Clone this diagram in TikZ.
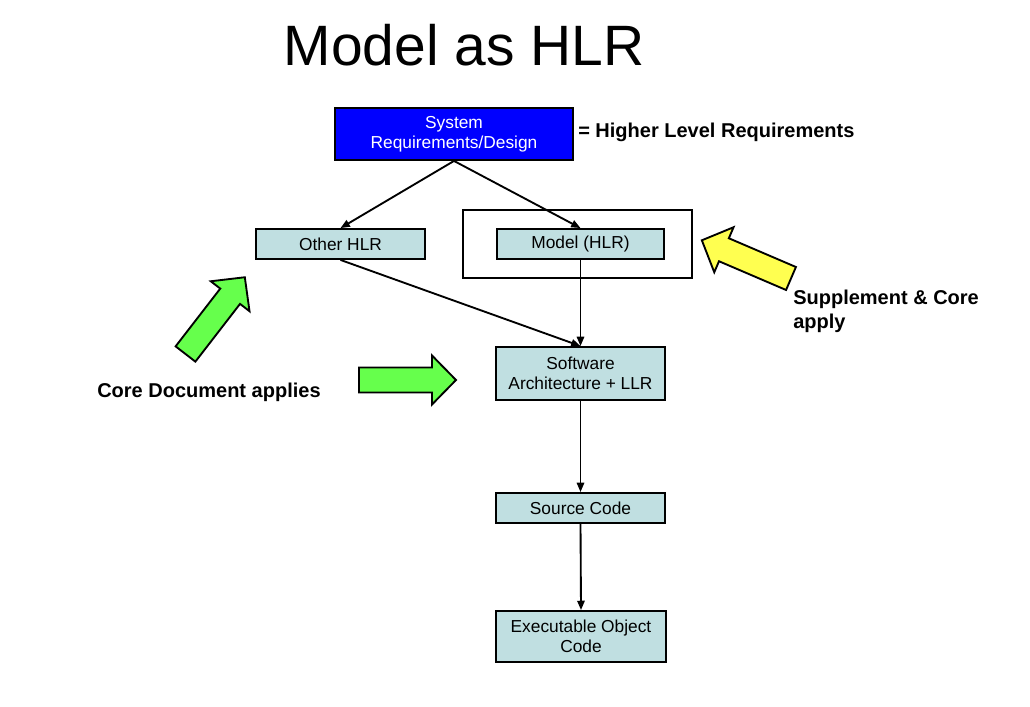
\documentclass[tikz,border=0pt]{standalone}
\usepackage{fontspec}
\setmainfont{Liberation Sans}
\usetikzlibrary{arrows.meta}

\definecolor{boxblue}{RGB}{0,0,255}
\definecolor{boxcyan}{RGB}{192,223,225}
\definecolor{arrowgreen}{RGB}{102,255,76}
\definecolor{arrowyellow}{RGB}{255,255,80}

\tikzset{
  box/.style={draw, line width=1.4pt, fill=boxcyan, align=center,
    font=\fontsize{13}{15}\selectfont, inner sep=0pt},
  topbox/.style={box, fill=boxblue, text=white},
  link/.style={line width=1.4pt, -{Triangle[length=7pt,width=5.5pt]}},
  note/.style={font=\fontsize{15}{18}\selectfont\bfseries, align=left, inner sep=0pt},
  blockgreen/.style={draw, line width=1.4pt, line join=miter, fill=arrowgreen},
  blockyellow/.style={draw, line width=1.4pt, line join=miter, fill=arrowyellow}
}

% Blockpfeil: Stil, Fusspunkt, Winkel
\newcommand\bigarrow[3]{%
  \begin{scope}[shift={#2}, rotate=#3]
    \draw[#1] (0,-12.5) -- (73,-12.5) -- (73,-24.5) -- (97,0)
      -- (73,24.5) -- (73,12.5) -- (0,12.5) -- cycle;
  \end{scope}}

\begin{document}
\begin{tikzpicture}[x=0.75pt, y=-0.75pt]
  \useasboundingbox (0,0) rectangle (1030,706);

  % Titel
  \node (title) at (464,45) {\fontsize{42.7}{48}\selectfont Model as HLR};

  % Kaesten
  \node[topbox, minimum width=178.5pt, minimum height=39pt] (sys) at (454,134)
    {System\\Requirements/Design};
  \node[box, minimum width=126.75pt, minimum height=22.5pt] (other) at (340.5,244) {Other HLR};
  \node[box, minimum width=125.25pt, minimum height=22.5pt] (model) at (580.5,244) {Model (HLR)};
  \node[box, minimum width=126.75pt, minimum height=39.75pt] (sw) at (580.5,373.5)
    {Software\\Architecture + LLR};
  \node[box, minimum width=126.75pt, minimum height=22.5pt] (src) at (580.5,508) {Source Code};
  \node[box, minimum width=127.5pt, minimum height=38.25pt] (exe) at (581,636.5)
    {Executable Object\\Code};

  % Rahmen um das Modell
  \draw[line width=1.4pt] (463,210) rectangle (692,278);

  % Verbindungen
  \draw[link] (sys.south) -- (other.north);
  \draw[link] (sys.south) -- (model.north);
  \draw[link] (other.south) -- (sw.north);
  \draw[link] (model.south) -- (sw.north);
  \draw[link] (sw.south) -- (src.north);
  \draw[link] (src.south) -- (exe.north);

  % Beschriftungen
  \node[note, anchor=west] (hlr) at (578,132) {= Higher Level Requirements};
  \node[note, anchor=north west] (supp) at (793,290) {Supplement \& Core\\apply};
  \node[note, anchor=west] (core) at (97,392) {Core Document applies};

  % Blockpfeile
  \bigarrow{blockgreen}{(185.5,354)}{52.3}
  \bigarrow{blockgreen}{(359,380)}{0}
  \bigarrow{blockyellow}{(791,278.5)}{156.8}
\end{tikzpicture}
\end{document}
